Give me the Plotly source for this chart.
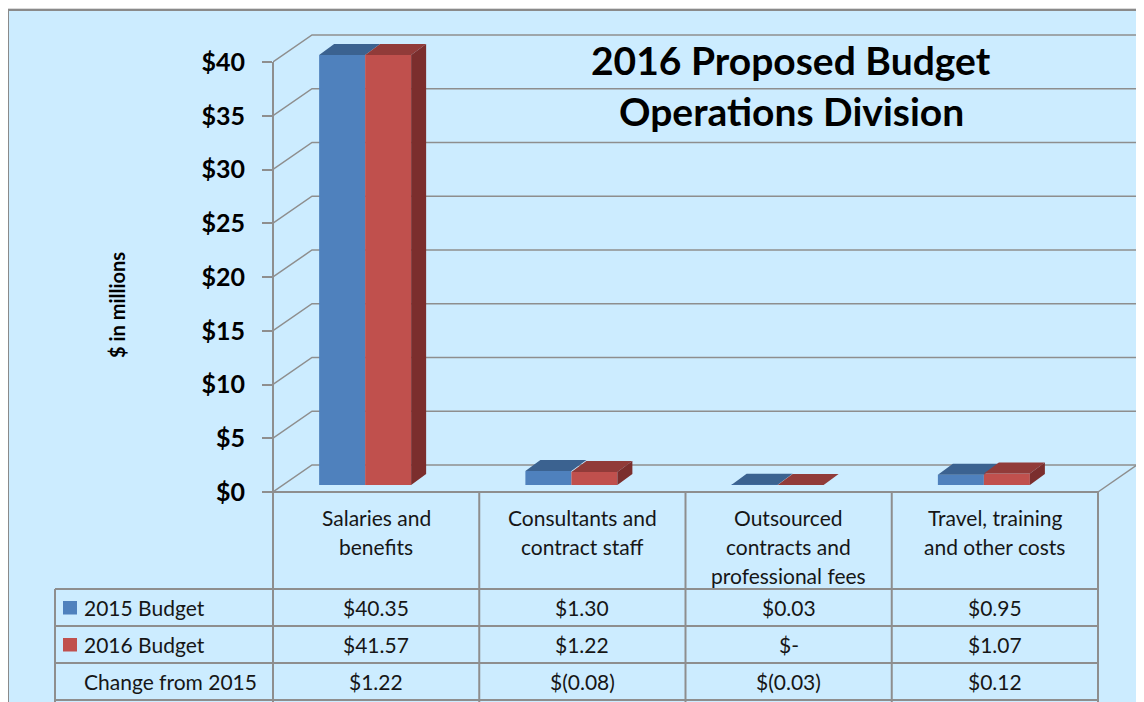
import numpy as np
import plotly.graph_objects as go

# ---------------- data ----------------
categories = ["Salaries and\nbenefits", "Consultants and\ncontract staff",
              "Outsourced\ncontracts and\nprofessional fees", "Travel, training\nand other costs"]
series_names = ["2015 Budget", "2016 Budget"]
budget_2015 = [40.35, 1.30, 0.03, 0.95]
budget_2016 = [41.57, 1.22, 0.00, 1.07]
change_label = "Change from 2015"
y_tick_values = [0, 5, 10, 15, 20, 25, 30, 35, 40]
y_tick_labels = ["$0", "$5", "$10", "$15", "$20", "$25", "$30", "$35", "$40"]
title_lines = ["2016 Proposed Budget", "Operations Division"]
y_title = "$ in millions"

# ---------------- styling / geometry ----------------
W, H = 1144, 702
OFF = 8             # page body margin of the html page
X_AX = 273.0        # screen px of front value axis
CAT_W = 206.25      # px per category
Y0 = 492.0          # screen px of value 0 (front)
PPU = 10.75         # px per $1M
Y_MAX = 40
FONT = "Lato"
BG = "#CCECFF"
GRID = "#8E8E8E"
BLUE, BLUE_TOP = "#4F81BD", "#3B6290"
RED, RED_TOP, RED_SIDE = "#C0504D", "#913B39", "#7B2E2D"


def dxu(px):
    return px / CAT_W


def dyu(px):
    return px / PPU


def xp(px):
    return (px - OFF) / W


def yp(py):
    return 1 - (py - OFF) / H


WALL_DX, WALL_DY = dxu(39), dyu(27)
BAR_W = dxu(46)
BAR_SHIFT = dxu(-11)
BAR_BASE = dyu(7)
BAR_DDX, BAR_DDY = dxu(15), dyu(11)
X_LEFT = -0.5
X_RIGHT_FLOOR = len(categories) - 0.5
X_BACK_END = X_LEFT + dxu(1137 - X_AX)

idx = np.arange(len(categories))
v15 = np.minimum(np.array(budget_2015), Y_MAX)
v16 = np.minimum(np.array(budget_2016), Y_MAX)

fig = go.Figure()

fig.add_trace(go.Bar(x=idx, y=v15, base=BAR_BASE, width=BAR_W, offset=BAR_SHIFT - BAR_W,
                     marker=dict(color=BLUE, line=dict(width=0)), name=series_names[0],
                     hoverinfo="skip"))
fig.add_trace(go.Bar(x=idx, y=v16, base=BAR_BASE, width=BAR_W, offset=BAR_SHIFT,
                     marker=dict(color=RED, line=dict(width=0)), name=series_names[1],
                     hoverinfo="skip"))


def top_faces(x_left, heights):
    xs, ys = [], []
    for xl, h in zip(x_left, heights):
        t = BAR_BASE + h
        xs += [xl, xl + BAR_W, xl + BAR_W + BAR_DDX, xl + BAR_DDX, xl, None]
        ys += [t, t, t + BAR_DDY, t + BAR_DDY, t, None]
    return xs, ys


def side_faces(x_right, heights):
    xs, ys = [], []
    for xr, h in zip(x_right, heights):
        t = BAR_BASE + h
        xs += [xr, xr + BAR_DDX, xr + BAR_DDX, xr, xr, None]
        ys += [BAR_BASE, BAR_BASE + BAR_DDY, t + BAR_DDY, t, BAR_BASE, None]
    return xs, ys


bx, by = top_faces(idx + BAR_SHIFT - BAR_W, v15)
fig.add_trace(go.Scatter(x=bx, y=by, fill="toself", fillcolor=BLUE_TOP, mode="lines",
                         line=dict(width=0), hoverinfo="skip", showlegend=False))
rx, ry = top_faces(idx + BAR_SHIFT, v16)
fig.add_trace(go.Scatter(x=rx, y=ry, fill="toself", fillcolor=RED_TOP, mode="lines",
                         line=dict(width=0), hoverinfo="skip", showlegend=False))
sx, sy = side_faces(idx + BAR_SHIFT + BAR_W, v16)
fig.add_trace(go.Scatter(x=sx, y=sy, fill="toself", fillcolor=RED_SIDE, mode="lines",
                         line=dict(width=0), hoverinfo="skip", showlegend=False))

shapes = []
# chart area background + border
shapes.append(dict(type="rect", xref="paper", yref="paper", x0=xp(5), x1=xp(1170), y0=yp(7), y1=yp(730),
                   line=dict(color="#DADADA", width=4), fillcolor="rgba(0,0,0,0)", layer="below"))
shapes.append(dict(type="rect", xref="paper", yref="paper", x0=xp(8), x1=xp(1170), y0=yp(10), y1=yp(730),
                   line=dict(color="#8A8A8A", width=2), fillcolor=BG, layer="below"))
# 3D gridlines (front tick -> back wall)
for v in y_tick_values:
    shapes.append(dict(type="path", xref="x", yref="y", layer="below",
                       path=f"M {X_LEFT},{v} L {X_LEFT + WALL_DX},{v + WALL_DY} L {X_BACK_END},{v + WALL_DY}",
                       line=dict(color=GRID, width=1.5)))
shapes.append(dict(type="line", xref="x", yref="y", layer="below", x0=X_RIGHT_FLOOR, y0=0,
                   x1=X_RIGHT_FLOOR + WALL_DX, y1=WALL_DY, line=dict(color=GRID, width=1.5)))


# data table grid
def hline(x0, x1, y):
    shapes.append(dict(type="line", xref="paper", yref="paper", x0=xp(x0), x1=xp(x1), y0=yp(y), y1=yp(y),
                       line=dict(color=GRID, width=2)))


def vline(x, y0, y1):
    shapes.append(dict(type="line", xref="paper", yref="paper", x0=xp(x), x1=xp(x), y0=yp(y0), y1=yp(y1),
                       line=dict(color=GRID, width=2)))


TABLE_LEFT = 55
ROW_Y = [589, 626, 663, 700]
col_x = [X_AX + CAT_W * i for i in range(len(categories) + 1)]
hline(X_AX, col_x[-1], Y0)
for y in ROW_Y:
    hline(TABLE_LEFT, col_x[-1], y)
vline(X_AX, Y0 - Y_MAX * PPU, 710)
for x in col_x[1:]:
    vline(x, Y0, 710)
vline(TABLE_LEFT, ROW_Y[0], 710)

# legend keys
for k, col in enumerate([BLUE, RED]):
    cy = (ROW_Y[k] + ROW_Y[k + 1]) / 2
    shapes.append(dict(type="rect", xref="paper", yref="paper", x0=xp(63), x1=xp(77),
                       y0=yp(cy - 6.5), y1=yp(cy + 7), fillcolor=col, line=dict(width=0)))

annotations = []
TXT = "#161616"
TSIZE = 21
# header cells
for i, cat in enumerate(categories):
    cx = X_AX + CAT_W * (i + 0.5)
    for j, line in enumerate(cat.split("\n")):
        annotations.append(dict(x=xp(cx), y=yp(517 + 29 * j), xref="paper", yref="paper", text=line,
                                showarrow=False, xanchor="center", yanchor="middle",
                                font=dict(family=FONT, size=TSIZE, color=TXT)))


def acct(v):
    if abs(v) < 0.005:
        return "$-"
    if v < 0:
        return f"$({abs(v):.2f})"
    return f"${v:.2f}"


change = [b - a for a, b in zip(budget_2015, budget_2016)]
row_labels = series_names + [change_label]
for r, vals in enumerate([budget_2015, budget_2016, change]):
    cy = (ROW_Y[r] + ROW_Y[r + 1]) / 2
    annotations.append(dict(x=xp(82), y=yp(cy), xref="paper", yref="paper", text=row_labels[r],
                            showarrow=False, xanchor="left", yanchor="middle",
                            font=dict(family=FONT, size=TSIZE, color=TXT)))
    for i, v in enumerate(vals):
        cx = X_AX + CAT_W * (i + 0.5)
        annotations.append(dict(x=xp(cx), y=yp(cy), xref="paper", yref="paper", text=acct(v),
                                showarrow=False, xanchor="center", yanchor="middle",
                                font=dict(family=FONT, size=TSIZE, color=TXT)))

# title
for j, line in enumerate(title_lines):
    annotations.append(dict(x=xp(791), y=yp(60 + 51 * j), xref="paper", yref="paper", text=f"<b>{line}</b>",
                            showarrow=False, xanchor="center", yanchor="middle",
                            font=dict(family=FONT, size=39, color="black")))
# y title
annotations.append(dict(x=xp(117), y=yp(305), xref="paper", yref="paper", text=f"<b>{y_title}</b>",
                        showarrow=False, xanchor="center", yanchor="middle", textangle=-90,
                        font=dict(family=FONT, size=20, color="black")))

fig.update_layout(
    width=W, height=H, autosize=False,
    margin=dict(l=0, r=0, t=0, b=0, pad=0),
    paper_bgcolor="white", plot_bgcolor="rgba(0,0,0,0)",
    barmode="overlay", showlegend=False,
    xaxis=dict(domain=[xp(X_AX), 1], range=[X_LEFT, X_LEFT + dxu(W + OFF - X_AX)], visible=False,
               fixedrange=True),
    yaxis=dict(domain=[0, 1], range=[-(H + OFF - Y0) / PPU, (Y0 - OFF) / PPU], tickmode="array",
               tickvals=y_tick_values, ticktext=y_tick_labels, ticks="outside", ticklen=10,
               tickwidth=1.5, tickcolor=GRID, showgrid=False, zeroline=False, showline=False,
               ticklabelstandoff=12,
               tickfont=dict(family=FONT, size=25, color="black", weight="bold"), fixedrange=True),
    shapes=shapes, annotations=annotations,
)

fig.write_html("out.html")
